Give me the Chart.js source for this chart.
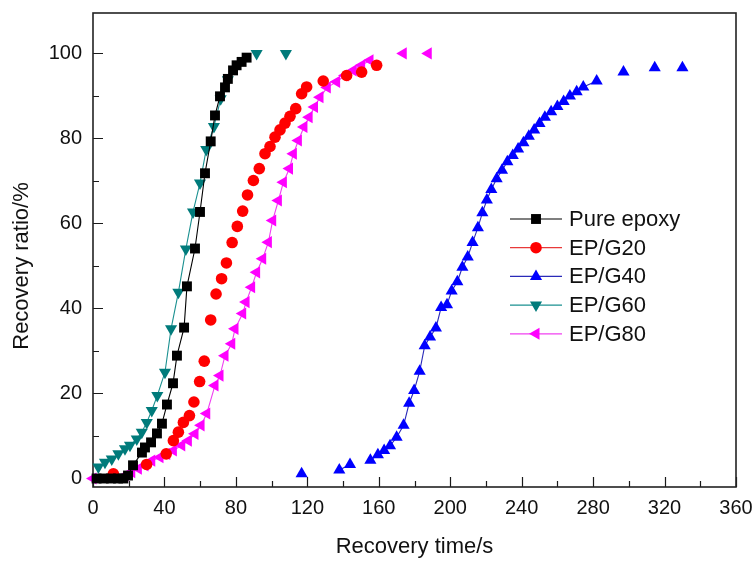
<!DOCTYPE html>
<html>
<head>
<meta charset="utf-8">
<script src="https://cdn.jsdelivr.net/npm/chart.js@4.4.1/dist/chart.umd.min.js"></script>
<style>
  html, body { margin: 0; padding: 0; background: #fff; }
  canvas { display: block; }
</style>
</head>
<body>
<canvas id="recoveryChart" width="754" height="561"></canvas>
<script>
// Recovery time (s) against recovery ratio (%) for each sample
const pureX = [2, 6, 10, 14, 17, 19.6, 22.4, 27.4, 29.1, 32.5, 35.8, 38.6, 41.4, 44.8, 47, 51, 52.6, 57.1, 59.9,
               62.7, 65.9, 68.3, 71.1, 73.9, 75.5, 78.4, 80.4, 83.2, 86];
const pureY = [0, 0, 0, 0, 0, 0.7, 3.1, 6.1, 7.3, 8.5, 10.6, 12.9, 17.4, 22.4, 28.9, 35.5, 45.2, 54.1, 62.7,
               71.8, 79.3, 85.4, 89.9, 92, 94, 96, 97.2, 98, 99];

const g20X = [11.4, 30, 41, 45, 47.8, 50.6, 54, 56.5, 59.7, 62.3, 65.9, 68.9, 72, 74.7, 77.9, 80.8, 83.8,
              86.5, 89.8, 93.1, 96.3, 99.1, 101.9, 104.7, 107.5, 110.3, 113.5, 116.8, 119.6, 128.9, 142, 150.4, 158.8];
const g20Y = [1.1, 3.3, 5.8, 8.9, 10.9, 13.2, 14.8, 18, 22.8, 27.6, 37.3, 43.4, 47, 50.7, 55.5, 59.3, 62.9,
              66.7, 70.1, 72.9, 76.4, 78.1, 80.3, 82, 83.6, 85.2, 87, 90.5, 92.1, 93.5, 94.8, 95.6, 97.2];

const g40X = [116.8, 137.9, 143.9, 155.3, 159.5, 163, 166.3, 170, 173.9, 177, 179.8, 182.9, 185.7, 188.7, 192,
              194.9, 198.2, 200.8, 204, 206.8, 209.8, 212.5, 215.5, 218, 220.5, 223, 226, 229, 232, 235,
              238, 241, 244, 247, 250, 253, 256.5, 260, 263.5, 267, 270.8, 274.5, 282, 297, 314.5, 330];
const g40Y = [1.1, 2, 3.3, 4.3, 5.6, 6.6, 7.7, 9.7, 12.5, 17.7, 20.7, 25.2, 31.2, 33.3, 35.4,
              40.2, 40.9, 44.1, 46.3, 49.7, 52.1, 55.5, 59, 62.5, 65.5, 68, 70.5, 72.5, 74.5, 76,
              77.5, 79, 80.5, 82, 83.5, 85, 86.3, 87.5, 88.7, 90, 91, 92.1, 93.5, 95.6, 96.6, 96.6];

const g60X = [3, 6.7, 10.5, 14.2, 17.9, 20.7, 24.5, 27.3, 30.1, 32.9, 36, 40.3, 43.7, 47.8, 52, 56, 59.9,
              63.4, 67.7, 71.5, 75.5, 91.6, 108];
const g60Y = [2.7, 3.8, 4.6, 5.8, 7, 7.8, 9.3, 10.9, 13.2, 16, 19.5, 25, 35.2, 43.8, 54, 62.7, 69.5,
              77.4, 82.8, 89.3, 93.8, 100, 100];

const g80X = [0, 17.9, 21.7, 25.4, 29.1, 32.9, 37.5, 41.3, 45, 49.7, 53.4, 57.1, 60.5, 63.7, 68.3, 71.1, 73.9,
              77.7, 79.5, 83.8, 85.7, 88.8, 91.6, 95, 98.2, 100.6, 103.8, 106.6, 110, 112.2, 115, 118.1, 121,
              124, 127.1, 131.2, 136.4, 141.1, 145.7, 150.4, 155.1, 173.7, 187.7];
const g80Y = [0, 0.7, 1.5, 2.3, 3.1, 4.2, 5, 5.8, 6.6, 7.8, 8.9, 10.5, 12.5, 15.3, 21.9, 24.2, 28.9,
              31.7, 35.2, 38.8, 41.5, 45, 48.5, 51.7, 55.6, 60.7, 65.4, 69.7, 72.9, 76.4, 79.5, 82.7, 85,
              87.4, 89.7, 92, 93.3, 94.8, 96, 97.2, 98.4, 100, 100];

const seriesNames = ['Pure epoxy', 'EP/G20', 'EP/G40', 'EP/G60', 'EP/G80'];
const xTicks = [0, 40, 80, 120, 160, 200, 240, 280, 320, 360];
const yTicks = [0, 20, 40, 60, 80, 100];

const FONT = "'Liberation Sans', Arial, sans-serif";

const pts = (xs, ys) => xs.map((x, i) => ({ x: x, y: ys[i] }));

// no connecting line across the sparse tail points
const skipGaps = {
  borderColor: c => (c.p1.parsed.x - c.p0.parsed.x > 10 ? 'rgba(0,0,0,0)' : undefined)
};

function series(name, xs, ys, color, lineColor, style, rotation, radius, showLine) {
  return {
    label: name,
    data: pts(xs, ys),
    showLine: showLine,
    borderColor: lineColor,
    borderWidth: 1.1,
    backgroundColor: color,
    pointBackgroundColor: color,
    pointBorderColor: color,
    pointBorderWidth: 0,
    pointStyle: style,
    pointRotation: rotation,
    pointRadius: radius,
    pointHoverRadius: radius,
    legendLine: lineColor,
    segment: skipGaps,
    clip: false
  };
}

// inward ticks and the closed box around the plot
const frame = {
  id: 'frame',
  beforeDatasetsDraw(chart) {
    const { ctx, chartArea: a, scales: { x, y } } = chart;
    ctx.save();
    ctx.strokeStyle = '#1a1a1a';
    ctx.lineWidth = 1.2;
    ctx.beginPath();
    xTicks.forEach((v, i) => {
      const px = Math.round(x.getPixelForValue(v)) + 0.5;
      ctx.moveTo(px, a.bottom);
      ctx.lineTo(px, a.bottom - 10);
      if (i < xTicks.length - 1) {
        const m = Math.round(x.getPixelForValue((v + xTicks[i + 1]) / 2)) + 0.5;
        ctx.moveTo(m, a.bottom);
        ctx.lineTo(m, a.bottom - 6);
      }
    });
    yTicks.forEach((v, i) => {
      const py = Math.round(y.getPixelForValue(v)) + 0.5;
      ctx.moveTo(a.left, py);
      ctx.lineTo(a.left + 10, py);
      if (i < yTicks.length - 1) {
        const m = Math.round(y.getPixelForValue((v + yTicks[i + 1]) / 2)) + 0.5;
        ctx.moveTo(a.left, m);
        ctx.lineTo(a.left + 6, m);
      }
    });
    ctx.stroke();
    ctx.lineWidth = 1.6;
    ctx.strokeStyle = '#222';
    ctx.strokeRect(a.left, a.top, a.right - a.left, a.bottom - a.top);

    // y axis title
    ctx.fillStyle = '#111';
    ctx.font = '22px ' + FONT;
    ctx.textAlign = 'center';
    ctx.textBaseline = 'middle';
    ctx.translate(22, (a.top + a.bottom) / 2 + 16);
    ctx.rotate(-Math.PI / 2);
    ctx.fillText('Recovery ratio/%', 0, 0);
    ctx.restore();
  },
  // legend with a line through each marker
  afterDraw(chart) {
    const { ctx, chartArea: a } = chart;
    const x0 = a.right - 226;
    const y0 = a.top + 206;
    ctx.save();
    chart.data.datasets.forEach((ds, i) => {
      const yy = y0 + i * 28.7;
      ctx.strokeStyle = ds.legendLine;
      ctx.lineWidth = 1.2;
      ctx.beginPath();
      ctx.moveTo(x0, yy);
      ctx.lineTo(x0 + 52, yy);
      ctx.stroke();
      ctx.fillStyle = ds.pointBackgroundColor;
      ctx.strokeStyle = ds.pointBorderColor;
      Chart.helpers.drawPoint(ctx, {
        pointStyle: ds.pointStyle,
        rotation: ds.pointRotation,
        radius: ds.pointRadius,
        borderWidth: 0
      }, x0 + 26, yy);
      ctx.fillStyle = '#111';
      ctx.font = '22px ' + FONT;
      ctx.textAlign = 'left';
      ctx.textBaseline = 'middle';
      ctx.fillText(ds.label, x0 + 59, yy + 1);
    });
    ctx.restore();
  }
};

new Chart(document.getElementById('recoveryChart'), {
  type: 'scatter',
  data: {
    datasets: [
      series(seriesNames[0], pureX, pureY, '#000000', '#000000', 'rect', 0, 7, true),
      series(seriesNames[1], g20X, g20Y, '#ff0000', '#e83a3a', 'circle', 0, 5.8, false),
      series(seriesNames[2], g40X, g40Y, '#0000ff', '#2a2ab8', 'triangle', 0, 7, true),
      series(seriesNames[3], g60X, g60Y, '#007b7b', '#1a9090', 'triangle', 180, 7, true),
      series(seriesNames[4], g80X, g80Y, '#ff00ff', '#f040f0', 'triangle', 270, 7, true)
    ]
  },
  options: {
    responsive: false,
    animation: false,
    layout: { padding: { left: 0, right: 18, top: 13, bottom: 0 } },
    plugins: {
      legend: { display: false },
      tooltip: { enabled: false }
    },
    scales: {
      x: {
        type: 'linear',
        min: 0,
        max: 360,
        afterBuildTicks: s => { s.ticks = xTicks.map(v => ({ value: v })); },
        afterFit: s => {
          s.height = 74;
          s.paddingLeft = 0;
          s.paddingRight = 0;
        },
        grid: { display: false, drawTicks: false },
        border: { display: false },
        ticks: {
          padding: 9,
          color: '#111',
          maxRotation: 0,
          font: { family: FONT, size: 20 }
        },
        title: {
          display: true,
          text: 'Recovery time/s',
          color: '#111',
          padding: { top: 0, bottom: 1 },
          font: { family: FONT, size: 22 }
        }
      },
      y: {
        type: 'linear',
        min: -2,
        max: 109.5,
        afterBuildTicks: s => { s.ticks = yTicks.map(v => ({ value: v })); },
        afterFit: s => {
          s.width = 93;
          s.paddingTop = 0;
          s.paddingBottom = 0;
        },
        grid: { display: false, drawTicks: false },
        border: { display: false },
        ticks: {
          padding: 11,
          color: '#111',
          font: { family: FONT, size: 20 }
        }
      }
    }
  },
  plugins: [frame]
});
</script>
</body>
</html>
